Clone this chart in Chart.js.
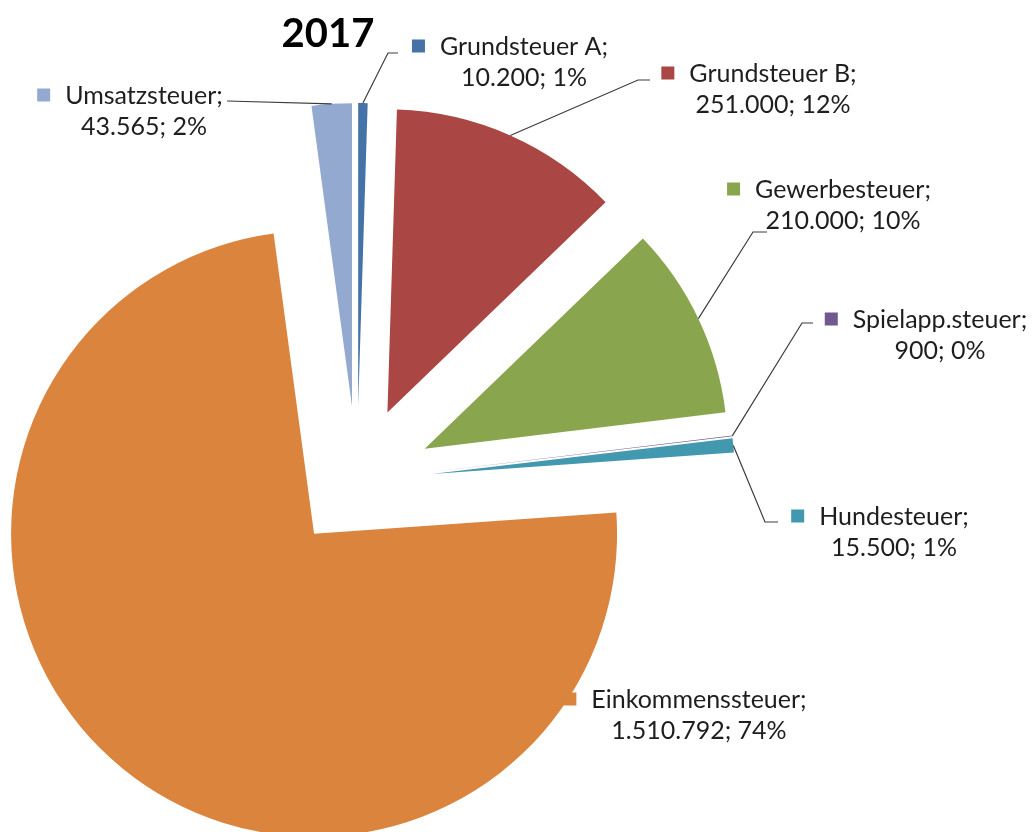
<!DOCTYPE html>
<html>
<head>
<meta charset="utf-8">
<script src="https://cdn.jsdelivr.net/npm/chart.js@4.4.1/dist/chart.umd.min.js"></script>
<style>
html,body{margin:0;padding:0;background:#fff;overflow:hidden}
canvas{display:block}
</style>
</head>
<body>
<canvas id="c" width="1032" height="832"></canvas>
<script>
// ---- data ----
const chartTitle = '2017';
const categories = ['Grundsteuer A', 'Grundsteuer B', 'Gewerbesteuer', 'Spielapp.steuer', 'Hundesteuer', 'Einkommenssteuer', 'Umsatzsteuer'];
const values = [10200, 251000, 210000, 900, 15500, 1510792, 43565];
const percentLabels = ['1%', '12%', '10%', '0%', '1%', '74%', '2%'];

// ---- style / layout ----
const colors = ['#4572A7', '#AA4643', '#89A54E', '#71588F', '#4198AF', '#DB843D', '#93A9CF'];
const explodeOffsets = [75, 75, 75, 75, 75, 68, 75];
const labelFont = '25px Lato';
const lineGap = 31;
const titleLayout = { x: 328, y: 47, font: 'bold 40px Lato' };
const labelLayout = [
  { cx: 524, y: 55, leader: [[388, 53], [398, 53]] },
  { cx: 773, y: 82, leader: [[638, 80], [650, 80]] },
  { cx: 843, y: 198, leader: [[753, 232], [767, 232]] },
  { cx: 940, y: 328, leader: [[802, 323], [813, 323]] },
  { cx: 894, y: 525, leader: [[765, 522], [778, 522]] },
  { cx: 699, y: 708, leader: null },
  { cx: 144, y: 104, leader: [[227, 101]] }
];

function fmtDE(v) {
  return String(v).replace(/\B(?=(\d{3})+(?!\d))/g, '.');
}

// Explode slices by a plain translation along the bisector (like Excel), keeping radius constant.
const ArcEl = Chart.ArcElement || (Chart.elements && Chart.elements.ArcElement);
const baseArcDraw = ArcEl.prototype.draw;
ArcEl.prototype.draw = function (ctx) {
  const d = this.options.offset || 0;
  const half = (this.startAngle + this.endAngle) / 2;
  ctx.save();
  ctx.translate(Math.cos(half) * d, Math.sin(half) * d);
  const proxy = Object.create(this);
  proxy.options = Object.assign({}, this.options, { offset: 0 });
  baseArcDraw.call(proxy, ctx);
  ctx.restore();
};

const labelPlugin = {
  id: 'sliceLabels',
  afterDatasetsDraw(chart) {
    const ctx = chart.ctx;
    const meta = chart.getDatasetMeta(0);
    ctx.save();
    ctx.textBaseline = 'alphabetic';
    ctx.textAlign = 'center';
    ctx.fillStyle = '#000';
    ctx.font = titleLayout.font;
    ctx.fillText(chartTitle, titleLayout.x, titleLayout.y);

    meta.data.forEach((arc, i) => {
      const L = labelLayout[i];
      const half = (arc.startAngle + arc.endAngle) / 2;
      const r = explodeOffsets[i] + arc.outerRadius;
      const ax = arc.x + Math.cos(half) * r;
      const ay = arc.y + Math.sin(half) * r;
      if (L.leader) {
        ctx.beginPath();
        ctx.moveTo(ax, ay);
        L.leader.forEach(p => ctx.lineTo(p[0], p[1]));
        ctx.strokeStyle = '#3c3c3c';
        ctx.lineWidth = 1.2;
        ctx.stroke();
      }
      const line1 = categories[i] + ';';
      const line2 = fmtDE(values[i]) + '; ' + percentLabels[i];
      ctx.font = labelFont;
      ctx.fillStyle = '#1e1e1e';
      ctx.textAlign = 'center';
      ctx.fillText(line1, L.cx, L.y);
      ctx.fillText(line2, L.cx, L.y + lineGap);
      const w = ctx.measureText(line1).width;
      const left = L.cx - w / 2;
      ctx.fillStyle = colors[i];
      ctx.fillRect(left - 15 - 13, L.y - 9 - 6.5, 13, 13);
    });
    ctx.restore();
  }
};

new Chart(document.getElementById('c'), {
  type: 'pie',
  data: {
    labels: categories,
    datasets: [{
      data: values,
      backgroundColor: colors,
      borderWidth: 0,
      offset: explodeOffsets,
      clip: false
    }]
  },
  options: {
    responsive: false,
    animation: false,
    events: [],
    radius: 303,
    layout: { padding: { left: 0, right: 318, top: 130, bottom: 0 } },
    plugins: {
      legend: { display: false },
      tooltip: { enabled: false },
      title: { display: false }
    }
  },
  plugins: [labelPlugin]
});
</script>
</body>
</html>
